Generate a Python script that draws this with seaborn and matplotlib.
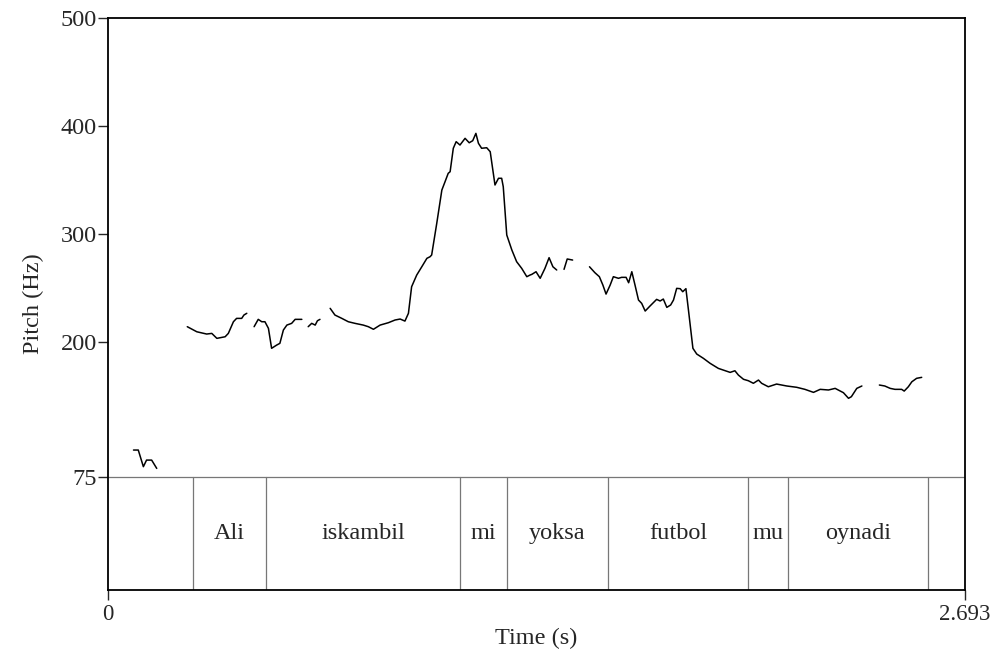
import matplotlib
matplotlib.use("Agg")
from matplotlib import pyplot as plt
import pandas as pd
import seaborn as sns

# pitch contour, one list pair per voiced stretch (time in s, f0 in Hz)
seg1_t = [0.080, 0.095, 0.111, 0.121, 0.137, 0.153]
seg1_f = [100.0, 100.0, 84.6, 90.7, 90.7, 83.0]

seg2_t = [0.249, 0.279, 0.310, 0.326, 0.342, 0.368, 0.378, 0.394, 0.404, 0.420, 0.427, 0.436]
seg2_f = [214.2, 209.5, 207.4, 208.0, 203.4, 204.9, 208.0, 218.8, 221.9, 221.9, 225.0, 226.6]

seg3_t = [0.459, 0.472, 0.483, 0.493, 0.504, 0.514, 0.530, 0.540, 0.551, 0.562, 0.577, 0.588, 0.609]
seg3_f = [214.2, 221.0, 218.8, 218.8, 212.7, 194.2, 197.2, 198.8, 211.1, 215.7, 217.3, 221.0, 221.0]

seg4_t = [0.629, 0.640, 0.651, 0.658, 0.666]
seg4_f = [214.2, 217.3, 215.7, 219.7, 221.0]

seg5_t = [0.698, 0.713, 0.734, 0.755, 0.776, 0.802, 0.818, 0.834, 0.855, 0.881, 0.902, 0.918,
          0.933, 0.944, 0.954, 0.970, 0.986, 1.002, 1.012, 1.017, 1.033, 1.049, 1.059, 1.069,
          1.075, 1.085, 1.094, 1.106, 1.122, 1.135, 1.146, 1.156, 1.164, 1.174, 1.190, 1.201,
          1.216, 1.227, 1.237, 1.242, 1.253, 1.269, 1.284, 1.300, 1.316, 1.326, 1.332, 1.345,
          1.358, 1.373, 1.386, 1.398, 1.410]
seg5_f = [231.2, 225.0, 222.0, 218.8, 217.3, 215.7, 214.2, 211.8, 215.7, 217.9, 220.4, 221.3,
          219.4, 226.6, 251.2, 262.0, 269.7, 277.5, 279.0, 280.6, 309.9, 340.7, 348.4, 356.2,
          357.7, 379.4, 385.5, 382.4, 388.6, 384.5, 386.4, 393.2, 384.0, 379.4, 379.9, 376.2,
          345.4, 351.6, 351.6, 343.8, 299.1, 285.2, 274.4, 268.2, 260.5, 262.0, 262.7, 265.1,
          259.0, 268.2, 278.1, 269.7, 266.7]

seg6_t = [1.433, 1.443, 1.460]
seg6_f = [267.3, 276.9, 275.9]

seg7_t = [1.513, 1.530, 1.544, 1.555, 1.565, 1.578, 1.588, 1.604, 1.614, 1.628, 1.636, 1.646,
          1.656, 1.667, 1.677, 1.688, 1.703, 1.724, 1.735, 1.745, 1.756, 1.768, 1.777, 1.787,
          1.798, 1.806, 1.816, 1.824, 1.838, 1.850, 1.871, 1.892, 1.918, 1.955, 1.970, 1.981,
          1.997, 2.012, 2.028, 2.044, 2.054, 2.075, 2.101, 2.133, 2.164, 2.190, 2.217, 2.238,
          2.264, 2.285, 2.311, 2.327, 2.336, 2.353, 2.369]
seg7_f = [269.7, 264.2, 260.5, 252.8, 244.4, 252.8, 260.5, 259.0, 259.9, 259.9, 254.9, 265.1,
          252.8, 238.9, 235.8, 228.7, 233.3, 239.5, 238.0, 239.8, 232.1, 234.3, 238.9, 249.7,
          249.4, 246.6, 249.4, 229.6, 194.2, 188.9, 184.9, 180.3, 175.6, 171.9, 173.4, 169.4,
          165.5, 164.2, 161.8, 164.8, 161.8, 158.6, 161.1, 159.3, 158.1, 156.2, 153.4, 156.2,
          155.6, 157.1, 153.1, 147.9, 149.4, 157.1, 159.3]

seg8_t = [2.424, 2.441, 2.458, 2.473, 2.494, 2.502, 2.515, 2.526, 2.541, 2.557]
seg8_f = [160.2, 159.3, 157.1, 156.2, 156.2, 154.6, 158.6, 163.2, 166.4, 167.3]

# word tier
bounds = [0.267, 0.497, 1.106, 1.254, 1.571, 2.011, 2.137, 2.577]
words = ["Ali", "iskambil", "mi", "yoksa", "futbol", "mu", "oynadi"]

t_end = 2.693
f_min, f_max = 75, 500
y_ticks = [75, 200, 300, 400, 500]

segs = [(seg1_t, seg1_f), (seg2_t, seg2_f), (seg3_t, seg3_f), (seg4_t, seg4_f),
        (seg5_t, seg5_f), (seg6_t, seg6_f), (seg7_t, seg7_f), (seg8_t, seg8_f)]
rows = []
for i, (ts, fs) in enumerate(segs):
    for t, f in zip(ts, fs):
        rows.append({"t": t, "f0": f, "seg": i})
df = pd.DataFrame(rows)

sns.set_style("ticks")
plt.rcParams["font.family"] = ["Liberation Serif", "DejaVu Serif"]

fig = plt.figure(figsize=(9.94, 6.55), dpi=100)
ax = fig.add_axes([0.1087, 0.0992, 0.8621, 0.8733])

sns.lineplot(data=df, x="t", y="f0", units="seg", estimator=None,
             color="black", linewidth=1.1, ax=ax)

tier_bottom = f_min - 104.6
ax.set_xlim(0, t_end)
ax.set_ylim(tier_bottom, f_max)

# tier box
ax.axhline(f_min, color="#777777", linewidth=0.9)
for b in bounds:
    ax.plot([b, b], [tier_bottom, f_min], color="#777777", linewidth=0.9)
for i, w in enumerate(words):
    ax.text((bounds[i] + bounds[i + 1]) / 2, (f_min + tier_bottom) / 2, w,
            ha="center", va="center", fontsize=17.5)

ax.set_yticks(y_ticks)
ax.set_yticklabels([str(v) for v in y_ticks])
ax.set_xticks([0, t_end])
ax.set_xticklabels(["0", "2.693"])
ax.tick_params(axis="both", direction="out", length=7, width=1, pad=2)
ax.tick_params(axis="y", labelsize=17.5, pad=1)
ax.tick_params(axis="x", labelsize=16.5, pad=3)

for s in ax.spines.values():
    s.set_visible(True)
    s.set_linewidth(1.3)
    s.set_color("black")

ax.set_xlabel("Time (s)", fontsize=17.5, labelpad=2)
ax.set_ylabel("Pitch (Hz)", fontsize=17.5, labelpad=12)

fig.savefig("out.png", dpi=100)
